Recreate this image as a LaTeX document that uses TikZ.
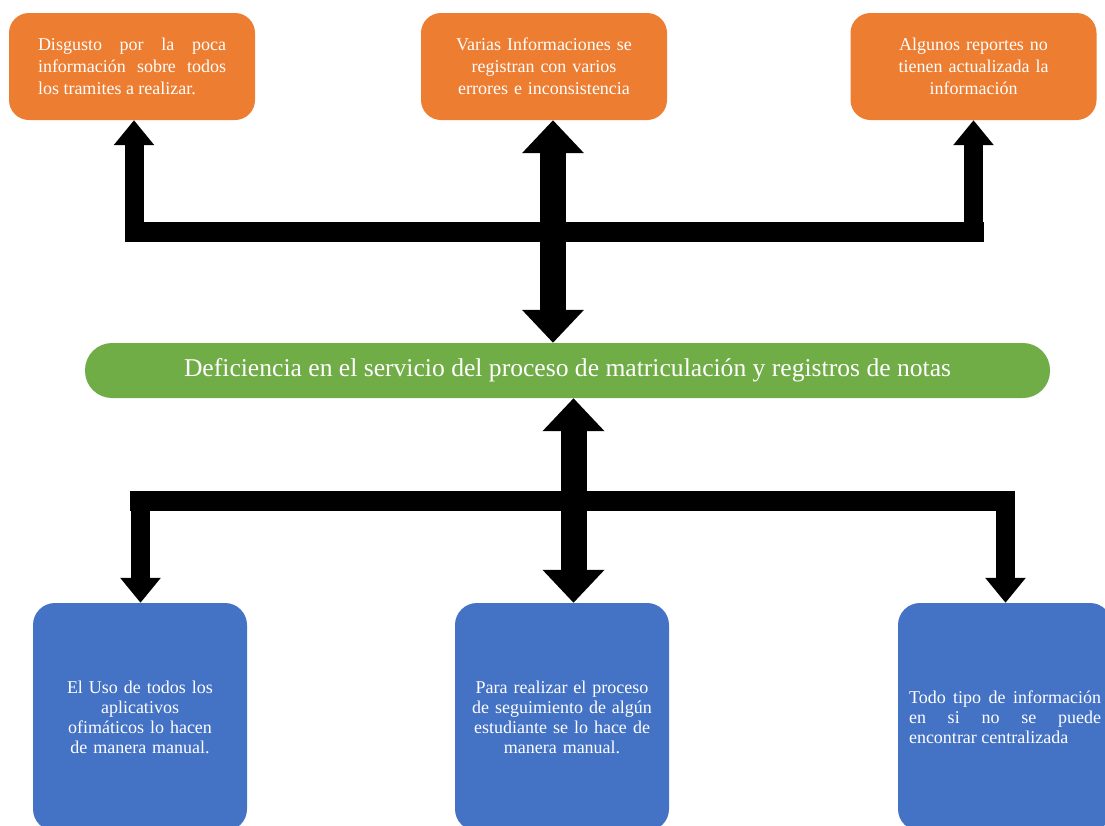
\documentclass[tikz,border=0pt]{standalone}
\usepackage{fontspec}
\setmainfont{Liberation Serif}
\usetikzlibrary{arrows.meta}
\definecolor{naranja}{HTML}{ED7D31}
\definecolor{verde}{HTML}{70AD47}
\definecolor{azul}{HTML}{4472C4}

\begin{document}
\begin{tikzpicture}[x=1pt,y=-1pt]
        \tikzstyle{every node}=[text=white,inner sep=0pt]
        \tikzstyle{causa}=[fill=naranja,rounded corners=20pt,minimum width=246pt,minimum height=107pt,text width=188pt,font=\fontsize{18}{22}\selectfont]
        \tikzstyle{efecto}=[fill=verde,rounded corners=27pt,minimum width=965pt,minimum height=55pt,font=\fontsize{25.6}{28}\selectfont]
        \tikzstyle{consecuencia}=[fill=azul,rounded corners=22pt,minimum width=214pt,minimum height=228pt,text width=192pt,font=\fontsize{18}{20}\selectfont]
        \tikzstyle{flecha}=[line width=19pt,-{Triangle[width=39pt,length=25pt]}]
        \tikzstyle{flechadoble}=[line width=26pt,{Triangle[width=60pt,length=33pt]}-{Triangle[width=60pt,length=33pt]}]
        \tikzstyle{barra}=[line width=20pt]
        \useasboundingbox (0,0) rectangle (1105,825);
        % causas
        \node[causa,align=justify] (c1) at (132,66.5) {Disgusto por la poca\linebreak información sobre todos\linebreak los tramites a realizar.};
        \node[causa,align=center] (c2) at (544,66.5) {Varias Informaciones se\\registran con varios\\errores e inconsistencia};
        \node[causa,align=center] (c3) at (973.5,66.5) {Algunos reportes no\\tienen actualizada la\\información};
        % problema
        \node[efecto] (e) at (567.5,370.5) {Deficiencia en el servicio del proceso de matriculación y registros de notas};
        % consecuencias
        \node[consecuencia,align=center] (b1) at (140,717) {El Uso de todos los\\aplicativos\\ofimáticos lo hacen\\de manera manual.};
        \node[consecuencia,align=center] (b2) at (562,717) {Para realizar el proceso\\de seguimiento de algún\\estudiante se lo hace de\\manera manual.};
        \node[consecuencia,align=justify] (b3) at (1005,717) {Todo tipo de información\linebreak en si no se puede\linebreak encontrar centralizada};
        % flechas de arriba
        \coordinate (bs1) at (124.5,232);
        \coordinate (bs2) at (983.5,232);
        \coordinate (ps1) at (134,242);
        \coordinate (ps3) at (973.5,242);
        \coordinate (m1) at ([xshift=9pt]c2.south);
        \draw[barra] (bs1) -- (bs2);
        \draw[flecha] (ps1) -- (ps1 |- c1.south);
        \draw[flecha] (ps3) -- (c3.south);
        \draw[flechadoble] (m1) -- (m1 |- e.north);
        % flechas de abajo
        \coordinate (bi1) at (130,501);
        \coordinate (bi2) at (1015,501);
        \coordinate (pi1) at (140.5,491);
        \coordinate (pi3) at (1005.5,491);
        \coordinate (m2) at ([xshift=6pt]e.south);
        \draw[barra] (bi1) -- (bi2);
        \draw[flecha] (pi1) -- (pi1 |- b1.north);
        \draw[flecha] (pi3) -- (pi3 |- b3.north);
        \draw[flechadoble] (m2) -- (m2 |- b2.north);
\end{tikzpicture}
\end{document}
